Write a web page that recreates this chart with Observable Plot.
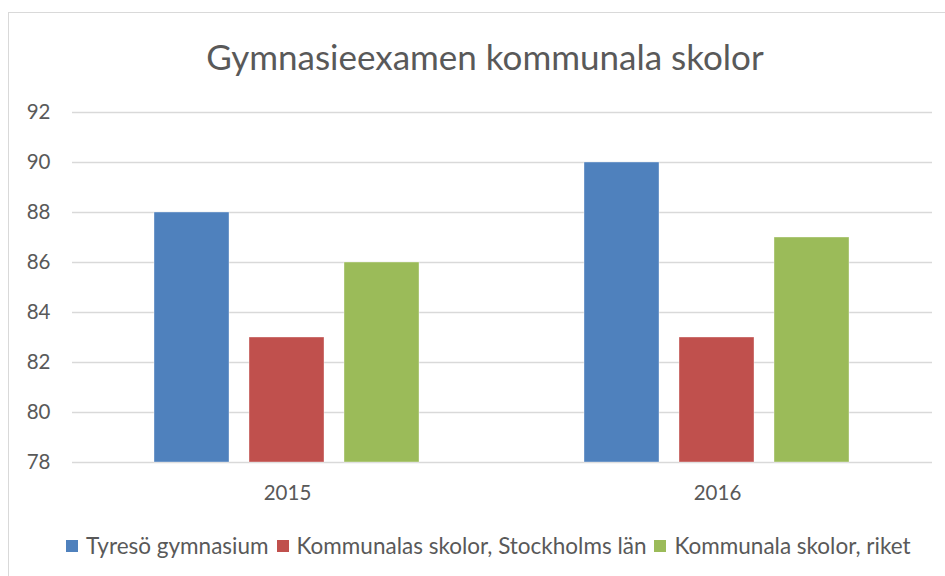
<!DOCTYPE html>
<html>
<head>
<meta charset="utf-8">
<script src="https://cdn.jsdelivr.net/npm/d3@7"></script>
<script src="https://cdn.jsdelivr.net/npm/@observablehq/plot@0.6"></script>
<style>
  body { margin: 0; background: #fff; }
  #wrap { position: relative; width: 945px; height: 576px; overflow: hidden; font-family: Lato, "Open Sans", sans-serif; color: #595959; }
  #frame { position: absolute; left: 8px; top: 12px; width: 960px; height: 600px; border: 1.5px solid #d9d9d9; box-sizing: border-box; }
  #title { position: absolute; top: 33px; left: 485px; transform: translateX(-50%); white-space: nowrap; font-size: 35px; line-height: 46px; }
  #chart { position: absolute; left: 0; top: 0; }
  #legend { position: absolute; top: 531px; left: 66px; display: flex; align-items: center; font-size: 22.5px; white-space: nowrap; line-height: 30px; }
  .item { display: flex; align-items: center; margin-right: 8px; }
  .sw { width: 12px; height: 12px; margin-right: 8px; }
</style>
</head>
<body>
<div id="wrap">
  <div id="frame"></div>
  <div id="chart"></div>
  <div id="title"></div>
  <div id="legend"></div>
</div>
<script>
const titleText = "Gymnasieexamen kommunala skolor";
const years = ["2015", "2016"];
const series = ["Tyresö gymnasium", "Kommunalas skolor, Stockholms län", "Kommunala skolor, riket"];
const colors = ["#4f81bd", "#c0504d", "#9bbb59"];
const tyreso = [88, 90];
const stockholm = [83, 83];
const riket = [86, 87];
const yTicks = [78, 80, 82, 84, 86, 88, 90, 92];

const valuesBySeries = [tyreso, stockholm, riket];
const data = [];
years.forEach((yr, i) => {
  series.forEach((s, j) => data.push({year: yr, series: s, value: valuesBySeries[j][i]}));
});
const baseline = yTicks[0];

document.getElementById("title").textContent = titleText;

const chart = Plot.plot({
  width: 945,
  height: 576,
  marginTop: 112,
  marginBottom: 114,
  marginLeft: 72,
  marginRight: 13,
  style: {fontFamily: "Lato, 'Open Sans', sans-serif", fontSize: "20.5px", color: "#595959", background: "transparent", overflow: "visible"},
  fx: {domain: years, paddingInner: 0, paddingOuter: 0, label: null, axis: "bottom", tickSize: 0, tickPadding: 23},
  x: {domain: series, paddingInner: 0.21, paddingOuter: 0.868, axis: null},
  y: {domain: [yTicks[0], yTicks[yTicks.length - 1]], ticks: yTicks, label: null, tickSize: 0, tickPadding: 22},
  color: {domain: series, range: colors},
  marks: [
    Plot.gridY(yTicks, {stroke: "#d9d9d9", strokeOpacity: 1, strokeWidth: 1.5, facetAnchor: null}),
    Plot.barY(data, {fx: "year", x: "series", y1: baseline, y2: "value", fill: "series", stroke: "#ffffff", strokeWidth: 0.6, strokeOpacity: 0.6}),
  ]
});
document.getElementById("chart").appendChild(chart);

const legend = document.getElementById("legend");
series.forEach((s, i) => {
  const it = document.createElement("div");
  it.className = "item";
  const sw = document.createElement("div");
  sw.className = "sw";
  sw.style.background = colors[i];
  const t = document.createElement("span");
  t.textContent = s;
  it.appendChild(sw); it.appendChild(t);
  legend.appendChild(it);
});
</script>
</body>
</html>
